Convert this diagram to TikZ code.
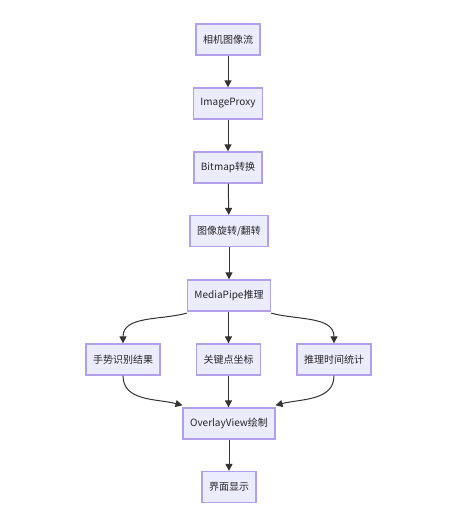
\documentclass[tikz,border=0pt]{standalone}
\usepackage{fontspec}
\setmainfont{Noto Sans CJK SC}
\usetikzlibrary{arrows.meta, positioning, calc}
\definecolor{flowfill}{HTML}{ECECFF}
\definecolor{flowline}{HTML}{B4A0EA}
\definecolor{edgegray}{HTML}{333333}

\begin{document}
\begin{tikzpicture}[
    x=1pt, y=-1pt,
    base/.style={draw=flowline, line width=1.3pt, fill=flowfill, minimum height=31pt, inner xsep=7pt,
        align=center, text=black!85, font=\fontsize{10pt}{12pt}\selectfont},
    arrow/.style={-{Triangle[length=7pt,width=7pt]}, line width=1pt, edgegray}
]
    \useasboundingbox (0,0) rectangle (456,509);

    % --- MAIN PIPELINE ---
    \node[base] (cam) at (228,39.5) {相机图像流};
    \node[base] (proxy) at (228,103.5) {ImageProxy};
    \node[base] (bmp) at (228,167.5) {Bitmap转换};
    \node[base] (rot) at (229,231) {图像旋转/翻转};
    \node[base] (mp) at (229,295.5) {MediaPipe推理};

    \draw[arrow] (cam) -- (proxy);
    \draw[arrow] (proxy) -- (bmp);
    \draw[arrow] (bmp) -- (rot);
    \draw[arrow] (rot) -- (mp);

    % --- RESULTS ---
    \node[base] (hand) at (123,359.5) {手势识别结果};
    \node[base] (kpts) at (228.5,359.5) {关键点坐标};
    \node[base] (time) at (334,359.5) {推理时间统计};

    \draw[arrow] ([yshift=-1.5pt]mp.south west) to[out=195,in=90] (hand.north);
    \draw[arrow] (mp.south -| kpts) -- (kpts.north);
    \draw[arrow] ([yshift=-1.5pt]mp.south east) to[out=-15,in=90] (time.north);

    % --- DRAWING ---
    \node[base] (over) at (229,423.5) {OverlayView绘制};
    \node[base] (ui) at (229,487) {界面显示};

    \draw[arrow] (hand.south) to[out=-90,in=165] ([yshift=2pt]over.north west);
    \draw[arrow] (kpts.south) -- (kpts.south |- over.north);
    \draw[arrow] (time.south) to[out=-90,in=15] ([yshift=2pt]over.north east);
    \draw[arrow] (over) -- (ui);

\end{tikzpicture}
\end{document}
